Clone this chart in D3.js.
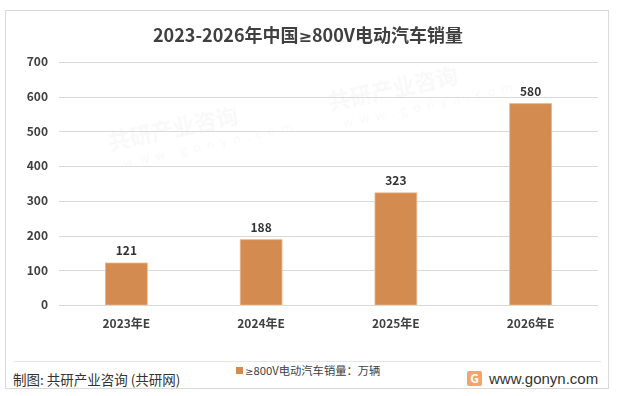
<!DOCTYPE html>
<html><head><meta charset="utf-8">
<script src="https://cdn.jsdelivr.net/npm/d3@7"></script>
<style>body{margin:0;background:#fff}svg{display:block;font-family:"Noto Sans CJK SC","Noto Sans",sans-serif}</style>
</head><body>
<script>
const categories = ["2023年E","2024年E","2025年E","2026年E"];
const values = [121,188,323,580];
const yTicks = [0,100,200,300,400,500,600,700];
const titlePre = "2023-2026年中国";
const titleSym = "≥";
const titlePost = "800V电动汽车销量";
const legendLabel = "800V电动汽车销量：万辆";
const source = "制图: 共研产业咨询 (共研网)";
const site = "www.gonyn.com";

const W=617,H=396;
const svg=d3.select("body").append("svg").attr("width",W).attr("height",H);
svg.append("rect").attr("x",5.5).attr("y",10.5).attr("width",603).attr("height",378).attr("fill","#fff").attr("stroke","#d9d9d9");

// faint watermarks (kept clear of the bars)
const wm=svg.append("g").attr("opacity",0.05).attr("fill","#777");
const wpos=[[110,150],[330,110]];
wpos.forEach(([x,y])=>{
  const g=wm.append("g").attr("transform",`translate(${x},${y}) rotate(-12)`);
  g.append("text").attr("font-size",22).attr("font-weight","bold").text("共研产业咨询");
  g.append("text").attr("y",20).attr("x",10).attr("font-size",13).attr("letter-spacing",6).text("www.gonyn.com");
});

const t=svg.append("text").attr("x",308).attr("y",42).attr("text-anchor","middle").attr("font-size",18).attr("font-weight","bold").attr("fill","#404040");
t.append("tspan").text(titlePre);
t.append("tspan").attr("font-family","DejaVu Sans").attr("font-size",16).text(titleSym);
t.append("tspan").text(titlePost);

const x=d3.scaleBand().domain(categories).range([59,598]).padding(0);
const y=d3.scaleLinear().domain([0,700]).range([305,62]);

const grid=svg.append("g");
grid.selectAll("line").data(yTicks).join("line")
 .attr("x1",59).attr("x2",598).attr("y1",d=>Math.round(y(d))+0.5).attr("y2",d=>Math.round(y(d))+0.5)
 .attr("stroke","#d9d9d9");

const ya=svg.append("g").attr("transform","translate(59,0)")
 .call(d3.axisLeft(y).tickValues(yTicks).tickSize(0).tickPadding(11));
ya.select(".domain").remove();
ya.selectAll("text").attr("font-size",12).attr("fill","#404040").attr("font-family","Noto Sans CJK SC").attr("font-weight","bold");

const bw=x.bandwidth()*0.31;
svg.selectAll(".bar").data(values).join("rect").attr("class","bar")
 .attr("x",(d,i)=>x(categories[i])+x.bandwidth()/2-bw/2)
 .attr("y",d=>y(d)).attr("width",bw).attr("height",d=>y(0)-y(d))
 .attr("fill","#d38b4f").attr("stroke","#e8b58c").attr("stroke-width",0.8);

svg.selectAll(".val").data(values).join("text").attr("class","val")
 .attr("x",(d,i)=>x(categories[i])+x.bandwidth()/2).attr("y",d=>y(d)-8)
 .attr("text-anchor","middle").attr("font-size",12).attr("font-weight","bold").attr("fill","#333").text(d=>d);

const xa=svg.append("g").attr("transform","translate(0,305)").call(d3.axisBottom(x).tickSize(0).tickPadding(14));
xa.select(".domain").attr("stroke","#d9d9d9");
xa.selectAll("text").attr("font-size",12).attr("fill","#404040").attr("font-family","Noto Sans CJK SC").attr("font-weight","bold");

svg.append("line").attr("x1",14).attr("x2",601).attr("y1",361.5).attr("y2",361.5).attr("stroke","#e6e6e6");

svg.append("rect").attr("x",236).attr("y",367).attr("width",7).attr("height",7).attr("fill","#d38b4f");
const lt=svg.append("text").attr("x",245).attr("y",375).attr("font-size",11.3).attr("fill","#404040");
lt.append("tspan").attr("font-family","DejaVu Sans").attr("font-size",10).text(titleSym);
lt.append("tspan").text(legendLabel);

svg.append("text").attr("x",13).attr("y",385).attr("font-size",13.5).attr("fill","#333").text(source);

const lg=svg.append("g").attr("transform","translate(467,371)");
lg.append("rect").attr("width",15).attr("height",15).attr("rx",2).attr("fill","#f4a46a");
lg.append("text").attr("x",7.5).attr("y",12).attr("text-anchor","middle").attr("font-size",12).attr("font-weight","bold").attr("fill","#fff").text("G");
svg.append("text").attr("x",489).attr("y",384).attr("font-size",15).attr("fill","#333").attr("font-family","Liberation Sans, Arial").text(site);
</script>
</body></html>
